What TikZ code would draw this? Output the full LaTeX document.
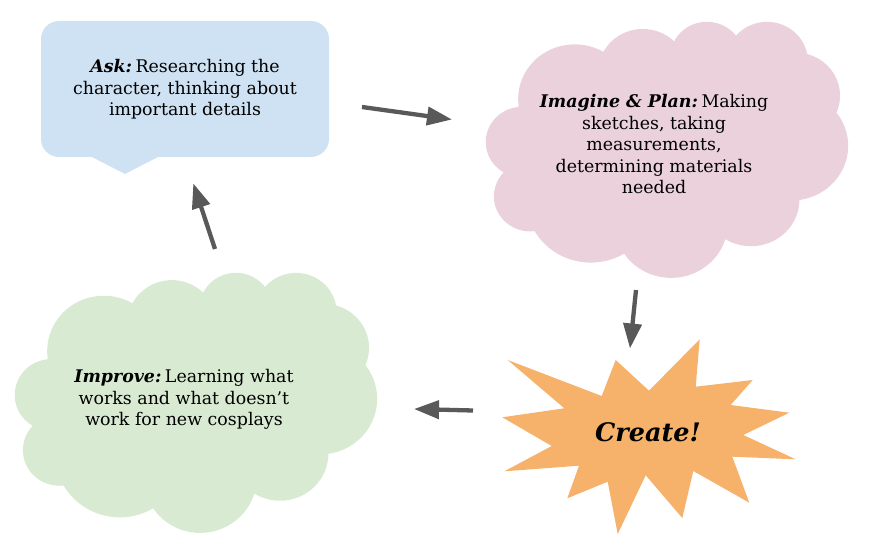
\documentclass[tikz,border=0pt]{standalone}
\usepackage{fontspec}
\setmainfont{DejaVu Serif}
\usetikzlibrary{arrows.meta}
\definecolor{askblue}{HTML}{CFE2F3}
\definecolor{planpink}{HTML}{EAD1DC}
\definecolor{improvegreen}{HTML}{D9EAD3}
\definecolor{starorange}{HTML}{F6B26B}
\definecolor{arrowgray}{HTML}{595959}
\newcommand\mycloudpath{%
  (39.00,143.70)
  arc[start angle=-187.75, end angle=-59.63, x radius=67.53, y radius=91.90]
  arc[start angle=-152.05, end angle=-45.46, x radius=53.33, y radius=72.67]
  arc[start angle=-153.49, end angle=-37.32, x radius=43.65, y radius=59.45]
  arc[start angle=-139.71, end angle=-10.21, x radius=48.57, y radius=65.95]
  arc[start angle=-74.77, end angle=23.21, x radius=53.33, y radius=72.73]
  arc[start angle=-37.52, end angle=81.86, x radius=67.75, y radius=92.20]
  arc[start angle=0.46, end angle=121.98, x radius=57.85, y radius=78.67]
  arc[start angle=16.85, end angle=146.22, x radius=67.52, y radius=92.15]
  arc[start angle=58.99, end angle=150.18, x radius=77.20, y radius=105.43]
  arc[start angle=-276.69, end angle=-136.91, x radius=43.60, y radius=59.18]
  arc[start angle=-239.64, end angle=-95.89, x radius=43.45, y radius=59.45]
  -- cycle}
\tikzset{
  txt/.style={align=center, inner sep=0pt, font=\fontsize{17.4}{21.5}\selectfont},
  flowarrow/.style={draw=arrowgray, line width=4.3pt, -{Triangle[length=25pt, width=18pt]}, shorten >=0pt},
}
\begin{document}
\begin{tikzpicture}[x=1pt,y=-1pt]
\useasboundingbox (0,0) rectangle (873,540);
% Ask box
\node[fill=askblue, rounded corners=18pt, minimum width=288pt, minimum height=136pt, inner sep=0pt] (askbox) at (185,89) {};
\fill[askblue] (90,156) -- (125,174) -- (160,156) -- cycle;
\node[txt] (ask) at (185,89.5) {\textbf{\textit{Ask:}}\kern0.2em Researching the\\character, thinking about\\important details};
% Plan cloud
\begin{scope}[shift={(486,21)}, xscale=0.838, yscale=0.5926]
  \fill[planpink] \mycloudpath;
\end{scope}
\node[txt] (plan) at (654,144.5) {\textbf{\textit{Imagine \& Plan:}}\kern0.2em Making\\sketches, taking\\measurements,\\determining materials\\needed};
% Improve cloud
\begin{scope}[shift={(15,272)}, xscale=0.838, yscale=0.6019]
  \fill[improvegreen] \mycloudpath;
\end{scope}
\node[txt] (improve) at (184,399.5) {\textbf{\textit{Improve:}}\kern0.2em Learning what\\works and what doesn’t\\work for new cosplays};
% Star
\fill[starorange] (507.7,360) -- (601.7,396) -- (615.7,360) -- (649,390.7) -- (699.7,339.3) -- (695.7,386.7) -- (752.7,380) -- (730.7,405) -- (789.3,412.7) -- (743.3,435) -- (795.7,459.3) -- (732.3,456.7) -- (749.3,502.7) -- (693.3,471) -- (682.3,518) -- (645.7,475.3) -- (617.7,534) -- (607.7,481.7) -- (567.3,498.3) -- (579,465.7) -- (504.3,471.3) -- (551.7,446) -- (502.3,417.3) -- (564.3,408.3) -- cycle;
\node[inner sep=0pt, font=\fontsize{25.5}{30}\selectfont\bfseries\itshape] (create) at (648,432) {Create!};
% Arrows
\coordinate (a1s) at (362,107);
\coordinate (a1e) at (452,119.5);
\coordinate (a2s) at (630,348.5);
\coordinate (a3s) at (636,290);
\coordinate (a4s) at (473,410.5);
\coordinate (a4e) at (414,409);
\coordinate (a5s) at (215,249);
\coordinate (a5e) at (193.3,183.3);
\draw[flowarrow] (a1s) -- (a1e);
\draw[flowarrow] (a3s) -- (a2s);
\draw[flowarrow] (a4s) -- (a4e);
\draw[flowarrow] (a5s) -- (a5e);
\end{tikzpicture}
\end{document}
